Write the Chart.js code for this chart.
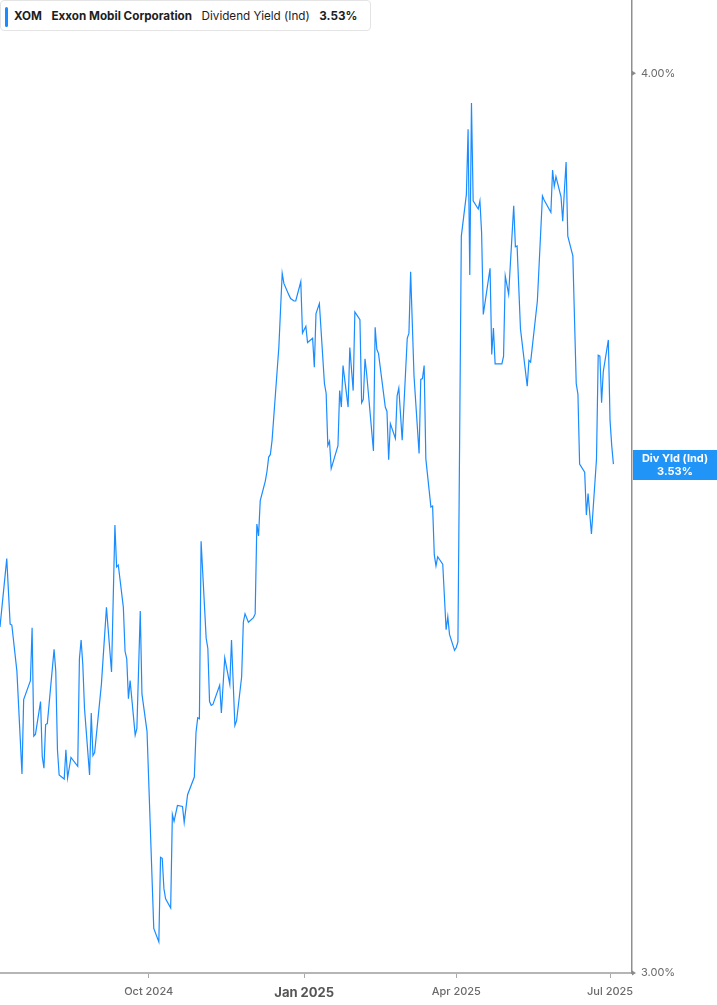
<!DOCTYPE html>
<html><head><meta charset="utf-8">
<script src="https://cdn.jsdelivr.net/npm/chart.js@4.4.1/dist/chart.umd.min.js"></script>
<style>
html,body{margin:0;padding:0;background:#fff;}
#wrap{position:relative;width:717px;height:1005px;overflow:hidden;}
canvas{display:block;}
#legend{position:absolute;left:0;top:0;height:31px;box-sizing:border-box;border:1px solid #e4e4e4;border-radius:4px;background:#fff;
  display:flex;align-items:center;padding:0 13px 0 13px;font-family:Inter, "Noto Sans", sans-serif;font-size:11.7px;color:#1d1d1f;white-space:nowrap;}
#legend .bar{position:absolute;left:4px;top:6px;width:3px;height:20px;background:#1a8cff;border-radius:2px;}
#legend b{font-weight:700;}
#legend .sp{display:inline-block;width:9.5px;}
</style>
</head><body>
<div id="wrap">
<canvas id="c" width="717" height="1005"></canvas>
<div id="legend"><span class="bar"></span><b>XOM</b><span class="sp"></span><b>Exxon Mobil Corporation</b><span class="sp"></span><span>Dividend Yield (Ind)</span><span class="sp"></span><b>3.53%</b></div>
</div>
<script>
const dates = [
'2024-07-05','2024-07-09','2024-07-11','2024-07-12','2024-07-15','2024-07-18','2024-07-19','2024-07-23','2024-07-24','2024-07-25',
'2024-07-26','2024-07-29','2024-07-30','2024-07-31','2024-08-01','2024-08-02','2024-08-06','2024-08-07','2024-08-08','2024-08-09',
'2024-08-12','2024-08-13','2024-08-14','2024-08-16','2024-08-20','2024-08-21','2024-08-22','2024-08-23','2024-08-24','2024-08-27',
'2024-08-28','2024-08-29','2024-08-30','2024-09-03','2024-09-06','2024-09-09','2024-09-11','2024-09-12','2024-09-13','2024-09-16',
'2024-09-17','2024-09-18','2024-09-19','2024-09-20','2024-09-23','2024-09-24','2024-09-26','2024-09-27','2024-09-30','2024-10-04',
'2024-10-07','2024-10-08','2024-10-09','2024-10-10','2024-10-11','2024-10-14','2024-10-15','2024-10-16','2024-10-18','2024-10-21',
'2024-10-22','2024-10-24','2024-10-28','2024-10-29','2024-10-30','2024-10-31','2024-11-01','2024-11-04','2024-11-05','2024-11-06',
'2024-11-07','2024-11-08','2024-11-12','2024-11-13','2024-11-15','2024-11-18','2024-11-19','2024-11-21','2024-11-22','2024-11-25',
'2024-11-26','2024-11-27','2024-11-29','2024-12-02','2024-12-03','2024-12-04','2024-12-05','2024-12-06','2024-12-09','2024-12-10',
'2024-12-11','2024-12-12','2024-12-13','2024-12-16','2024-12-17','2024-12-18','2024-12-19','2024-12-20','2024-12-23','2024-12-24',
'2024-12-26','2024-12-27','2024-12-30','2024-12-31','2025-01-02','2025-01-03','2025-01-06','2025-01-07','2025-01-08','2025-01-10',
'2025-01-13','2025-01-14','2025-01-15','2025-01-16','2025-01-17','2025-01-21','2025-01-22','2025-01-23','2025-01-24','2025-01-27',
'2025-01-28','2025-01-30','2025-01-31','2025-02-03','2025-02-04','2025-02-05','2025-02-06','2025-02-07','2025-02-11','2025-02-12',
'2025-02-13','2025-02-14','2025-02-18','2025-02-19','2025-02-20','2025-02-21','2025-02-24','2025-02-25','2025-02-26','2025-02-28',
'2025-03-03','2025-03-04','2025-03-05','2025-03-07','2025-03-10','2025-03-11','2025-03-12','2025-03-13','2025-03-14','2025-03-17',
'2025-03-18','2025-03-19','2025-03-20','2025-03-21','2025-03-24','2025-03-26','2025-03-27','2025-03-28','2025-03-31','2025-04-01',
'2025-04-02','2025-04-03','2025-04-04','2025-04-07','2025-04-08','2025-04-09','2025-04-10','2025-04-11','2025-04-14','2025-04-15',
'2025-04-16','2025-04-17','2025-04-21','2025-04-22','2025-04-23','2025-04-24','2025-04-28','2025-04-29','2025-04-30','2025-05-02',
'2025-05-05','2025-05-06','2025-05-07','2025-05-09','2025-05-13','2025-05-14','2025-05-15','2025-05-19','2025-05-22','2025-05-23',
'2025-05-27','2025-05-28','2025-05-29','2025-05-30','2025-06-02','2025-06-03','2025-06-04','2025-06-05','2025-06-06','2025-06-09',
'2025-06-10','2025-06-11','2025-06-12','2025-06-13','2025-06-16','2025-06-17','2025-06-18','2025-06-20','2025-06-23','2025-06-24',
'2025-06-25','2025-06-26','2025-06-27','2025-06-30','2025-07-01','2025-07-02','2025-07-03'
];
const yieldValues = [
3.351,3.425,3.354,3.353,3.304,3.197,3.274,3.294,3.350,3.236,
3.238,3.272,3.215,3.203,3.248,3.249,3.327,3.304,3.222,3.196,
3.192,3.222,3.193,3.214,3.205,3.317,3.337,3.311,3.265,3.196,
3.260,3.216,3.219,3.290,3.372,3.303,3.462,3.416,3.418,3.372,
3.325,3.317,3.275,3.294,3.237,3.244,3.368,3.280,3.241,3.043,
3.030,3.113,3.112,3.082,3.072,3.063,3.156,3.149,3.165,3.164,
3.148,3.176,3.194,3.240,3.255,3.254,3.444,3.339,3.328,3.272,
3.268,3.269,3.289,3.260,3.318,3.290,3.337,3.247,3.252,3.298,
3.356,3.365,3.356,3.361,3.365,3.463,3.450,3.489,3.511,3.522,
3.538,3.541,3.557,3.637,3.664,3.708,3.752,3.740,3.726,3.722,
3.719,3.719,3.742,3.681,3.689,3.670,3.675,3.641,3.704,3.716,
3.622,3.611,3.551,3.556,3.525,3.551,3.614,3.595,3.643,3.595,
3.664,3.614,3.706,3.697,3.600,3.604,3.651,3.633,3.545,3.688,
3.662,3.657,3.595,3.590,3.535,3.576,3.559,3.608,3.617,3.557,
3.675,3.681,3.754,3.631,3.542,3.627,3.628,3.643,3.536,3.482,
3.483,3.429,3.417,3.427,3.419,3.348,3.362,3.343,3.326,3.329,
3.335,3.557,3.797,3.848,3.929,3.750,3.962,3.840,3.830,3.840,
3.801,3.703,3.758,3.656,3.687,3.645,3.645,3.654,3.749,3.727,
3.834,3.784,3.785,3.686,3.619,3.649,3.647,3.719,3.846,3.841,
3.826,3.878,3.858,3.870,3.845,3.815,3.853,3.888,3.797,3.773,
3.696,3.622,3.610,3.530,3.521,3.473,3.497,3.452,3.536,3.655,
3.654,3.600,3.636,3.673,3.580,3.551,3.530
];
const xTickDates = ['2024-10-01','2025-01-01','2025-04-01','2025-07-01'];
const xTickLabels = ['Oct 2024','Jan 2025','Apr 2025','Jul 2025'];
const xRange = ['2024-07-05','2025-07-14'];
const yTickValues = [3.0, 4.0];
const yRange = [3.0, 4.0947];
const seriesLabel = 'Div Yld (Ind)';

const LINE_COLOR = '#1a8cff';
const TAG_COLOR = '#2194f7';
const FONT = 'Inter, "Noto Sans", sans-serif';

const points = dates.map((d, i) => ({x: Date.parse(d), y: yieldValues[i]}));
const xTickVals = xTickDates.map(d => Date.parse(d));

const tagPlugin = {
  id: 'tag',
  afterDraw(chart) {
    const ctx = chart.ctx;
    const ys = chart.scales.y;
    const ca = chart.chartArea;
    ctx.save();
    ctx.fillStyle = '#8a8a8a';
    yTickValues.forEach(v => {
      const py = ys.getPixelForValue(v);
      ctx.beginPath();
      ctx.moveTo(ca.right, py - 2.5);
      ctx.lineTo(ca.right + 4, py);
      ctx.lineTo(ca.right, py + 2.5);
      ctx.closePath();
      ctx.fill();
    });
    const last = yieldValues[yieldValues.length - 1];
    const py = ys.getPixelForValue(last);
    const x0 = ca.right + 1, w = chart.width - x0, h = 30;
    ctx.fillStyle = TAG_COLOR;
    ctx.fillRect(x0, Math.round(py - h / 2) + 1, w, h);
    ctx.fillStyle = '#ffffff';
    ctx.font = 'bold 11px ' + FONT;
    ctx.textAlign = 'center';
    ctx.textBaseline = 'middle';
    ctx.fillText(seriesLabel, x0 + w / 2, py - 5);
    ctx.fillText(last.toFixed(2) + '%', x0 + w / 2, py + 8);
    ctx.restore();
  }
};

new Chart(document.getElementById('c'), {
  type: 'line',
  data: {
    datasets: [{
      data: points,
      borderColor: LINE_COLOR,
      borderWidth: 1.2,
      pointRadius: 0,
      tension: 0,
      fill: false
    }]
  },
  options: {
    responsive: false,
    animation: false,
    events: [],
    layout: {padding: 0},
    plugins: {legend: {display: false}, tooltip: {enabled: false}},
    scales: {
      x: {
        type: 'linear',
        min: Date.parse(xRange[0]),
        max: Date.parse(xRange[1]),
        afterBuildTicks(scale) { scale.ticks = xTickVals.map(v => ({value: v})); },
        afterFit(scale) { scale.height = 32; scale.paddingLeft = 0; scale.paddingRight = 0; },
        grid: {drawOnChartArea: false, drawTicks: true, tickLength: 5, color: '#a8a8a8', lineWidth: 1},
        border: {display: true, color: '#b5b5b5', width: 2},
        ticks: {
          autoSkip: false,
          maxRotation: 0,
          padding: 7,
          callback(v) { const i = xTickVals.indexOf(v); return i >= 0 ? xTickLabels[i] : ''; },
          font(ctx) {
            const lbl = ctx.tick ? xTickLabels[xTickVals.indexOf(ctx.tick.value)] : '';
            return lbl === 'Jan 2025' ? {family: FONT, size: 13, weight: 'bold'} : {family: FONT, size: 11, weight: '500'};
          },
          color(ctx) {
            const lbl = ctx.tick ? xTickLabels[xTickVals.indexOf(ctx.tick.value)] : '';
            return lbl === 'Jan 2025' ? '#555555' : '#6a6a6a';
          }
        }
      },
      y: {
        type: 'logarithmic',
        position: 'right',
        min: yRange[0],
        max: yRange[1],
        afterBuildTicks(scale) { scale.ticks = yTickValues.map(v => ({value: v})); },
        afterFit(scale) { scale.width = 85; scale.paddingTop = 0; scale.paddingBottom = 0; },
        grid: {drawOnChartArea: false, drawTicks: false},
        border: {display: true, color: '#8f8f8f', width: 1.5},
        ticks: {
          padding: 9,
          font: {family: FONT, size: 11},
          color: '#6a6a6a',
          callback(v) { return Number(v).toFixed(2) + '%'; }
        }
      }
    }
  },
  plugins: [tagPlugin]
});
</script>
</body></html>
